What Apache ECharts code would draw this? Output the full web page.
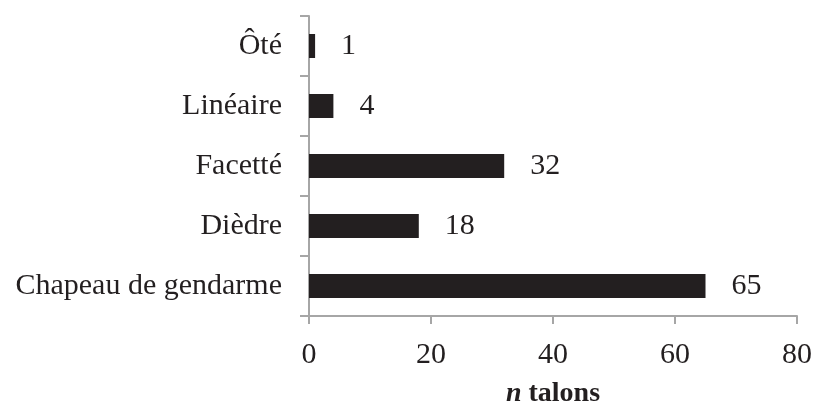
<!DOCTYPE html>
<html><head><meta charset="utf-8">
<script src="https://cdn.jsdelivr.net/npm/echarts@6/dist/echarts.min.js"></script>
<style>html,body{margin:0;padding:0;background:#fff}#c{width:824px;height:405px}</style>
</head><body><div id="c"></div>
<script>
const categories = ['Chapeau de gendarme', 'Dièdre', 'Facetté', 'Linéaire', 'Ôté'];
const values = [65, 18, 32, 4, 1];
const xTicks = [0, 20, 40, 60, 80];

const FONT = '"Liberation Serif", "DejaVu Serif", serif';
const axisGray = '#a6a6a6';
const textColor = '#231f20';
const chart = echarts.init(document.getElementById('c'), null, {renderer: 'canvas'});
chart.setOption({
  animation: false,
  grid: {left: 309, right: 27, top: 16, bottom: 89, containLabel: false, outerBoundsMode: 'none'},
  xAxis: {
    type: 'value', min: xTicks[0], max: xTicks[xTicks.length - 1], interval: 20,
    splitLine: {show: false},
    axisLine: {show: true, lineStyle: {color: axisGray, width: 2}},
    axisTick: {show: true, length: 8, lineStyle: {color: axisGray, width: 2}},
    axisLabel: {margin: 24, fontFamily: FONT, fontSize: 30, color: textColor},
    name: '{i|n} talons', nameLocation: 'middle', nameGap: 64,
    nameTextStyle: {
      fontFamily: FONT, fontSize: 28, fontWeight: 'bold', color: textColor,
      rich: {i: {fontFamily: FONT, fontSize: 28, fontWeight: 'bold', fontStyle: 'italic', color: textColor}}
    }
  },
  yAxis: {
    type: 'category', data: categories,
    axisLine: {show: true, lineStyle: {color: axisGray, width: 2}},
    axisTick: {show: true, length: 9, lineStyle: {color: axisGray, width: 2}},
    axisLabel: {margin: 27, fontFamily: FONT, fontSize: 30, color: textColor}
  },
  series: [{
    type: 'bar', data: values, barWidth: 24,
    itemStyle: {color: textColor},
    label: {show: true, position: 'right', distance: 26, fontFamily: FONT, fontSize: 30, color: textColor}
  }]
});
</script></body></html>
